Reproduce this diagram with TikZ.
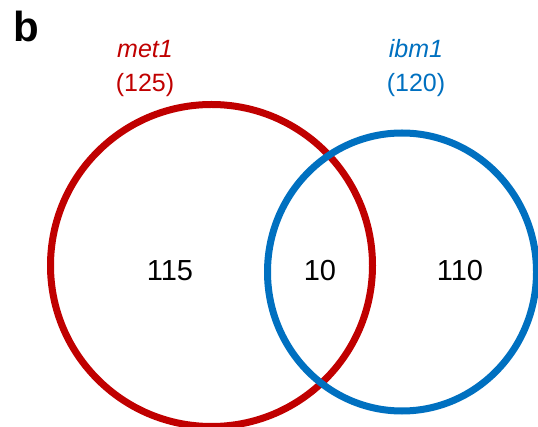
\documentclass[tikz,border=0pt]{standalone}
\usepackage{fontspec}
\setmainfont{Liberation Sans}
\definecolor{setred}{HTML}{C00000}
\definecolor{setblue}{HTML}{0070C0}
\begin{document}
\begin{tikzpicture}[x=1pt,y=-1pt,
  ring/.style={line width=7pt},
  setlabel/.style={align=center,inner sep=0pt,font=\fontsize{25}{34}\selectfont},
  count/.style={inner sep=0pt,font=\fontsize{29}{34}\selectfont},
  panel/.style={inner sep=0pt,anchor=base west,font=\fontsize{42}{48}\selectfont\bfseries}]
  \useasboundingbox (0,0) rectangle (538,427);
  % the two sets
  \draw[ring,setred] (211.5,265.5) circle[radius=161];
  \draw[ring,setblue] (402,272) ellipse[x radius=134.5,y radius=139];
  % panel letter
  \node[panel] (tag) at (13,42) {b};
  % set names with their sizes
  \node[setlabel,text=setred] (metname) at (145,68) {\textit{met1}\\(125)};
  \node[setlabel,text=setblue] (ibmname) at (416,68) {\textit{ibm1}\\(120)};
  % region counts
  \node[count] (onlymet) at (170,271) {115};
  \node[count] (both) at (320,271) {10};
  \node[count] (onlyibm) at (460,271) {110};
\end{tikzpicture}
\end{document}
